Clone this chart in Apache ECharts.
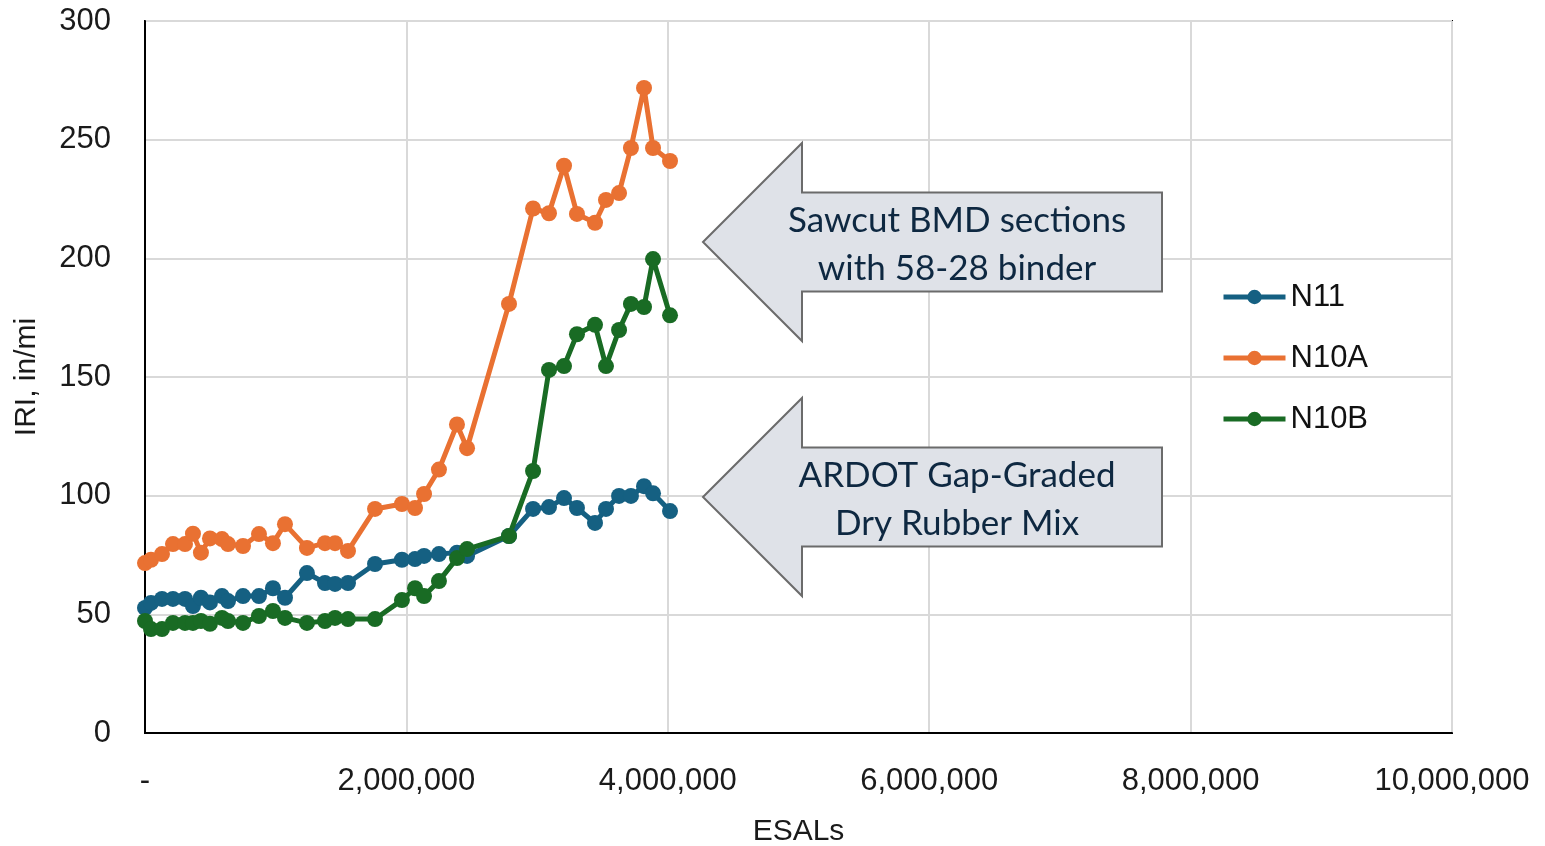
<!DOCTYPE html>
<html>
<head>
<meta charset="utf-8">
<script src="https://cdn.jsdelivr.net/npm/echarts@6/dist/echarts.min.js"></script>
<style>
html,body{margin:0;padding:0;background:#fff;}
#chart{width:1545px;height:846px;}
</style>
</head>
<body>
<div id="chart"></div>
<script>
// ESALs (shared x values)
const esals = [0, 46000, 130000, 214000, 306000, 367000, 428000, 497000, 589000, 635000, 750000, 872000, 979000, 1071000, 1239000, 1377000, 1454000, 1553000, 1760000, 1966000, 2066000, 2135000, 2249000, 2387000, 2464000, 2785000, 2969000, 3091000, 3206000, 3305000, 3443000, 3527000, 3627000, 3718000, 3818000, 3887000, 4017000];
const n11 = [52.7, 54.8, 56.5, 56.5, 56.5, 53.5, 57, 55, 57.7, 55.6, 57.7, 57.7, 61, 57, 67.4, 63.2, 62.8, 63.2, 71.2, 73, 73.3, 74.6, 75.4, 76, 74.6, 83, 94.4, 95.2, 99, 94.8, 88.5, 94.4, 99.9, 99.9, 104, 101, 93.5];
const n10a = [71.6, 73, 75.4, 79.6, 79.6, 84, 76, 82, 81.7, 79.6, 78.8, 83.8, 80, 88, 78, 80, 80, 76.7, 94.4, 96.5, 94.8, 100.7, 111, 130, 120, 180.8, 221, 219, 239, 218.7, 215, 224.6, 227.5, 246.5, 271.8, 246.5, 241];
const n10b = [47.2, 43.8, 43.8, 46.4, 46.4, 46.4, 47.2, 46, 48.5, 47.2, 46.4, 49.3, 51.4, 48.5, 46.4, 47.2, 48.5, 48, 48, 56, 61, 57.7, 64, 73.7, 77.5, 83, 110.4, 153, 154.6, 168, 172, 154.6, 169.8, 180.8, 179.5, 199.7, 176];
const seriesNames = ['N11', 'N10A', 'N10B'];
const seriesColors = ['#156082', '#E97132', '#196B24'];
const xAxisName = 'ESALs';
const yAxisName = 'IRI, in/mi';
const note1 = ['Sawcut BMD sections', 'with 58-28 binder'];
const note2 = ['ARDOT Gap-Graded', 'Dry Rubber Mix'];

function fmt(v) {
  if (v === 0) return '-';
  return String(Math.round(v)).replace(/\B(?=(\d{3})+(?!\d))/g, ',');
}
function zip(xs, ys) { return xs.map((x, i) => [x, ys[i]]); }

const chart = echarts.init(document.getElementById('chart'), null, {renderer: 'canvas'});
const font = 'Liberation Sans, Arial, sans-serif';
const txtColor = '#1a1a1a';

function arrow(tipX, tipY, lines) {
  const headX = tipX + 99, halfHead = 99, halfShaft = 49.5, rightX = 1162;
  return [
    {
      type: 'polygon',
      z: 100,
      shape: {points: [
        [tipX, tipY], [headX, tipY - halfHead], [headX, tipY - halfShaft],
        [rightX, tipY - halfShaft], [rightX, tipY + halfShaft], [headX, tipY + halfShaft],
        [headX, tipY + halfHead]
      ]},
      style: {fill: '#dfe2e8', stroke: '#6b6b6b', lineWidth: 2}
    },
    {
      type: 'text',
      z: 101,
      x: 957, y: tipY + 3,
      style: {
        text: lines.join('\n'),
        font: '35px Lato, "Open Sans", sans-serif',
        fill: '#0e2841',
        align: 'center',
        verticalAlign: 'middle',
        lineHeight: 48
      }
    }
  ];
}

chart.setOption({
  animation: false,
  backgroundColor: '#fff',
  grid: {left: 145, right: 93, top: 21, bottom: 113, show: true, borderColor: '#000', borderWidth: 2, containLabel: false, outerBoundsMode: 'none'},
  xAxis: {
    type: 'value', min: 0, max: 10000000, interval: 2000000,
    name: xAxisName, nameLocation: 'middle', nameGap: 84,
    nameTextStyle: {fontSize: 30, fontFamily: font, color: txtColor},
    axisLine: {show: true, lineStyle: {color: '#000', width: 2}},
    axisTick: {show: false},
    axisLabel: {formatter: fmt, fontSize: 31, fontFamily: font, color: txtColor, margin: 33},
    splitLine: {show: true, lineStyle: {color: '#d9d9d9', width: 2}}
  },
  yAxis: {
    type: 'value', min: 0, max: 300, interval: 50,
    name: yAxisName, nameLocation: 'middle', nameGap: 103,
    nameTextStyle: {fontSize: 30, fontFamily: font, color: txtColor},
    axisLine: {show: true, lineStyle: {color: '#000', width: 2}},
    axisTick: {show: false},
    axisLabel: {fontSize: 31, fontFamily: font, color: txtColor, margin: 34},
    splitLine: {show: true, lineStyle: {color: '#d9d9d9', width: 2}}
  },
  legend: {
    orient: 'vertical', left: 1216, top: 274,
    itemWidth: 62, itemHeight: 18, itemGap: 25,
    lineStyle: {width: 5},
    textStyle: {fontSize: 31, fontFamily: font, color: '#111', lineHeight: 36},
    data: seriesNames
  },
  series: [n11, n10a, n10b].map((d, i) => ({
    name: seriesNames[i],
    type: 'line',
    data: zip(esals, d),
    color: seriesColors[i],
    symbol: 'circle',
    symbolSize: 16,
    showAllSymbol: true,
    lineStyle: {width: 5, color: seriesColors[i]},
    itemStyle: {color: seriesColors[i]}
  })),
  graphic: [].concat(arrow(703, 242, note1), arrow(703, 497, note2))
});
</script>
</body>
</html>
